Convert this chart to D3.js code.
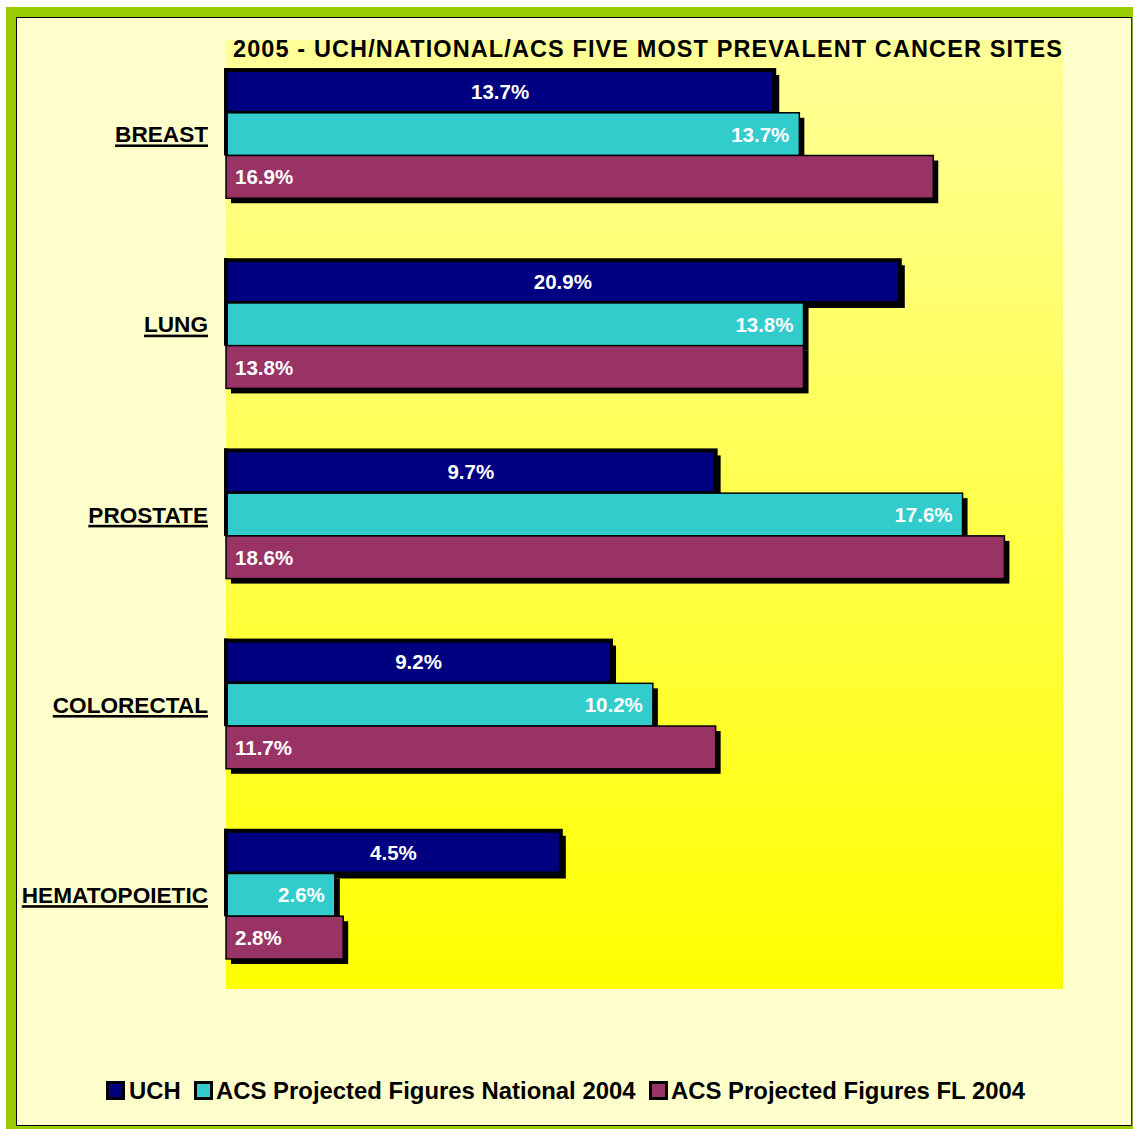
<!DOCTYPE html>
<html>
<head>
<meta charset="utf-8">
<script src="https://cdn.jsdelivr.net/npm/d3@7"></script>
<style>
  html, body { margin: 0; padding: 0; background: #ffffff; }
  svg { display: block; }
  text { font-family: "Liberation Sans", Arial, Helvetica, sans-serif; font-weight: bold; }
</style>
</head>
<body>
<svg id="chart" width="1133" height="1129"></svg>
<script>
// ---- data ----
const title = "2005 - UCH/NATIONAL/ACS FIVE MOST PREVALENT CANCER SITES";
const categories = ["BREAST", "LUNG", "PROSTATE", "COLORECTAL", "HEMATOPOIETIC"];
const seriesNames = ["UCH", "ACS Projected Figures National 2004", "ACS Projected Figures FL 2004"];
// UCH bar lengths as drawn in the picture (the printed labels differ from the bar lengths)
const uchValues = [13.1, 16.1, 11.7, 9.2, 8.0];
const uchLabels = ["13.7%", "20.9%", "9.7%", "9.2%", "4.5%"];
const nationalValues = [13.7, 13.8, 17.6, 10.2, 2.6];
const flValues = [16.9, 13.8, 18.6, 11.7, 2.8];
const xDomain = [0, 20];

// ---- styles ----
const colors = ["#000080", "#33CCCC", "#993366"];
const W = 1133, H = 1129;
const plot = { left: 226, right: 1063, top: 40, bottom: 989 };

const svg = d3.select("#chart");

// frame
svg.append("rect").attr("x", 0).attr("y", 0).attr("width", W).attr("height", H).attr("fill", "#ffffff");
svg.append("rect").attr("x", 6).attr("y", 7).attr("width", W - 6).attr("height", H - 7).attr("fill", "#99CC00");
svg.append("rect").attr("x", 16.5).attr("y", 17.5).attr("width", 1115).attr("height", 1108)
  .attr("fill", "#FFFFCC").attr("stroke", "#000").attr("stroke-width", 1);
svg.append("line").attr("x1", 1132).attr("x2", 1132).attr("y1", 17).attr("y2", 1126)
  .attr("stroke", "#777", "stroke-width", 1);

// plot area gradient
const defs = svg.append("defs");
const grad = defs.append("linearGradient").attr("id", "plotGrad")
  .attr("x1", 0).attr("y1", 0).attr("x2", 0).attr("y2", 1);
grad.append("stop").attr("offset", "0%").attr("stop-color", "#FFFF99");
grad.append("stop").attr("offset", "100%").attr("stop-color", "#FFFF00");
svg.append("rect").attr("x", plot.left).attr("y", plot.top)
  .attr("width", plot.right - plot.left).attr("height", plot.bottom - plot.top)
  .attr("fill", "url(#plotGrad)");

// scales
const x = d3.scaleLinear().domain(xDomain).range([plot.left, plot.right]);
const y = d3.scaleBand().domain(categories).range([plot.top, plot.bottom])
  .paddingInner(0.326).paddingOuter(0.158);
const ys = d3.scaleBand().domain(seriesNames).range([0, y.bandwidth()]).padding(0);

// rows
const rows = categories.map((c, i) => ({
  cat: c,
  bars: [
    { s: seriesNames[0], v: uchValues[i], label: uchLabels[i], k: 0 },
    { s: seriesNames[1], v: nationalValues[i], label: nationalValues[i].toFixed(1) + "%", k: 1 },
    { s: seriesNames[2], v: flValues[i], label: flValues[i].toFixed(1) + "%", k: 2 }
  ]
}));

const shadowOff = 5;
const gRows = svg.append("g");
rows.forEach(r => {
  const g = gRows.append("g").attr("transform", `translate(0,${y(r.cat)})`);
  r.bars.forEach(b => {
    const by = ys(b.s), bh = ys.bandwidth();
    const bw = x(b.v) - x(0);
    // shadow
    g.append("rect").attr("x", x(0) + shadowOff).attr("y", by + shadowOff)
      .attr("width", bw).attr("height", bh).attr("fill", "#000");
    // bar
    g.append("rect").attr("x", x(0)).attr("y", by).attr("width", bw).attr("height", bh)
      .attr("fill", colors[b.k]).attr("stroke", "#000")
      .attr("stroke-width", b.k === 0 ? 4 : 1.5);
  });
  // thick left edge of first two bars
  g.append("rect").attr("x", x(0) - 2).attr("y", ys(seriesNames[0]) - 2)
    .attr("width", 4).attr("height", ys.bandwidth() * 2 + 2).attr("fill", "#000");
  // labels
  r.bars.forEach(b => {
    const by = ys(b.s) + ys.bandwidth() / 2 + 7.5;
    let tx, anchor;
    if (b.k === 0) { tx = (x(0) + x(b.v)) / 2; anchor = "middle"; }
    else if (b.k === 1) { tx = x(b.v) - 10; anchor = "end"; }
    else { tx = x(0) + 9; anchor = "start"; }
    g.append("text").attr("x", tx).attr("y", by).attr("text-anchor", anchor)
      .attr("fill", "#fff").attr("font-size", "20.5px").text(b.label);
  });
});

// category axis labels (underlined)
const catG = svg.append("g");
categories.forEach(c => {
  const cy = y(c) + y.bandwidth() / 2 + 8;
  const t = catG.append("text").attr("x", 208).attr("y", cy).attr("text-anchor", "end")
    .attr("font-size", "22.6px").attr("fill", "#000").text(c);
  const w = t.node().getComputedTextLength();
  catG.append("rect").attr("x", 208 - w).attr("y", cy + 2.3).attr("width", w).attr("height", 2.6).attr("fill", "#000");
});

// title
svg.append("text").attr("x", 233).attr("y", 57).attr("font-size", "23.5px")
  .attr("textLength", 829).attr("lengthAdjust", "spacing").attr("fill", "#000").text(title);

// legend
const legendItems = [
  { name: seriesNames[0], sq: 106, tx: 129 },
  { name: seriesNames[1], sq: 194, tx: 216 },
  { name: seriesNames[2], sq: 649, tx: 671 }
];
const lg = svg.append("g");
legendItems.forEach((it, i) => {
  lg.append("rect").attr("x", it.sq + 1.5).attr("y", 1082.5).attr("width", 16).attr("height", 16)
    .attr("fill", colors[i]).attr("stroke", "#000").attr("stroke-width", 3);
  lg.append("text").attr("x", it.tx).attr("y", 1099).attr("font-size", "23.9px").attr("fill", "#000").text(it.name);
});
</script>
</body>
</html>
